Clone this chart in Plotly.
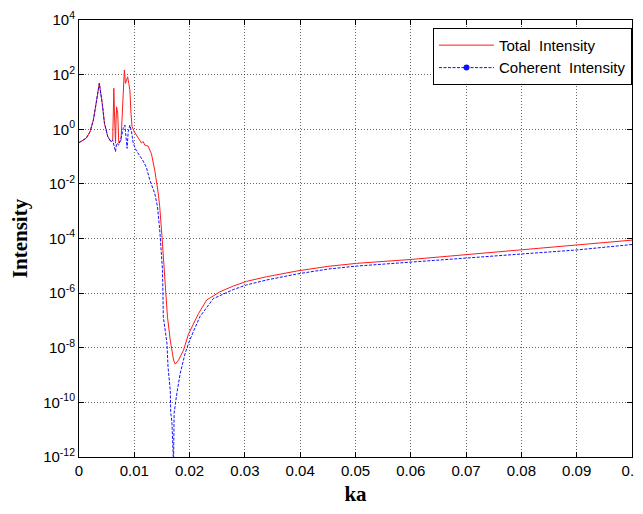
import plotly.graph_objects as go

# ---- data (intensity as log10 exponents) ----
total_ka = [0, 0.0006, 0.0013, 0.002, 0.0026, 0.0031, 0.00367, 0.0042, 0.0046, 0.0052,
            0.0058, 0.0061, 0.0062, 0.0063, 0.0064, 0.0066, 0.0067, 0.0068, 0.0070, 0.0072,
            0.0076, 0.0079, 0.0082, 0.0084, 0.0086, 0.0088, 0.0090, 0.0092, 0.0094, 0.0096,
            0.0100, 0.0104, 0.0108, 0.0113, 0.0116, 0.0119, 0.0125, 0.0131, 0.0137, 0.0143,
            0.0146, 0.0150, 0.0153, 0.0157, 0.0160, 0.0165, 0.0171, 0.0174, 0.0180, 0.0189,
            0.0198, 0.0207, 0.0216, 0.0231, 0.0255, 0.0279, 0.0303, 0.0339, 0.0394, 0.045,
            0.0502, 0.0599, 0.0695, 0.0797, 0.09, 0.1]
total_log10 = [-0.49, -0.42, -0.33, -0.09, 0.34, 0.95, 1.68, 0.95, 0.22, -0.27,
               -0.46, -0.40, 0.70, 1.50, 0.70, -0.51, 0.34, 0.82, 0.58, -0.51,
               -0.40, 1.07, 2.17, 1.68, 1.86, 1.92, 1.68, 1.44, 0.58, 0.09,
               -0.09, -0.20, -0.35, -0.50, -0.45, -0.58, -0.62, -0.90, -1.50, -2.30,
               -2.84, -3.90, -5.00, -6.00, -6.87, -7.72, -8.45, -8.60, -8.45, -8.09,
               -7.50, -7.10, -6.75, -6.25, -5.95, -5.74, -5.57, -5.40, -5.19, -5.02,
               -4.91, -4.77, -4.60, -4.44, -4.25, -4.06]

coh_ka = [0, 0.0006, 0.0013, 0.002, 0.0026, 0.0031, 0.00367, 0.0042, 0.0046, 0.0052,
          0.0058, 0.0061, 0.0064, 0.0066, 0.0068, 0.0072, 0.0076, 0.0080, 0.0083, 0.0085,
          0.0087, 0.0089, 0.0092, 0.0095, 0.0098, 0.0103, 0.0109, 0.0115, 0.0122, 0.0128,
          0.0137, 0.0142, 0.0146, 0.0151, 0.01525, 0.01555, 0.0159, 0.0161, 0.0165, 0.0166,
          0.0168, 0.0171, 0.0172, 0.0177, 0.0183, 0.0192, 0.0198, 0.0207, 0.0219, 0.0243,
          0.0279, 0.0303, 0.0339, 0.0394, 0.045, 0.0502, 0.0599, 0.0695, 0.0797, 0.09, 0.1]
coh_log10 = [-0.49, -0.42, -0.33, -0.09, 0.34, 0.95, 1.68, 0.95, 0.22, -0.27,
             -0.46, -0.40, -0.65, -0.82, -0.51, -0.58, -0.33, 0.03, 0.15, -0.27,
             -0.70, -0.09, 0.15, -0.09, -0.51, -0.76, -0.94, -1.13, -1.40, -1.86,
             -2.35, -2.84, -3.69, -5.16, -6.87, -7.36, -7.83, -8.70, -9.55, -10.40,
             -10.70, -12.30, -10.40, -9.66, -8.94, -8.20, -7.84, -7.40, -6.85, -6.20,
             -5.87, -5.70, -5.52, -5.30, -5.12, -5.01, -4.86, -4.73, -4.58, -4.42, -4.22]

total_int = [10 ** v for v in total_log10]
coh_int = [10 ** v for v in coh_log10]

x_ticks = [0, 0.01, 0.02, 0.03, 0.04, 0.05, 0.06, 0.07, 0.08, 0.09, 0.1]
x_tick_text = ["0", "0.01", "0.02", "0.03", "0.04", "0.05", "0.06", "0.07", "0.08", "0.09", "0.1"]
y_tick_exponents = [-12, -10, -8, -6, -4, -2, 0, 2, 4]
y_ticks = [10 ** e for e in y_tick_exponents]
y_tick_text = ["10<sup>%d</sup>" % e for e in y_tick_exponents]

fig = go.Figure()
fig.add_trace(go.Scatter(x=total_ka, y=total_int, mode="lines",
                         name="Total\u00a0 Intensity",
                         line=dict(color="#ff1a1a", width=1)))
fig.add_trace(go.Scatter(x=coh_ka, y=coh_int, mode="lines", showlegend=False,
                         line=dict(color="#1010ff", width=1, dash="3px,1.5px")))
fig.add_trace(go.Scatter(x=[None], y=[None], mode="lines+markers",
                         name="Coherent\u00a0 Intensity",
                         line=dict(color="#1010ff", width=1, dash="3px,1.5px"),
                         marker=dict(color="#1010ff", size=6)))

axis_common = dict(showline=True, linecolor="black", linewidth=1, mirror="ticks",
                   ticks="inside", ticklen=5, tickcolor="black",
                   showgrid=True, gridcolor="rgba(0,0,0,0.6)", gridwidth=1, griddash="1px,2px",
                   zeroline=False, automargin=False, ticklabeloverflow="allow",
                   tickfont=dict(family="Liberation Sans, Arial", size=15, color="black"))

fig.update_xaxes(range=[0, 0.1], tickvals=x_ticks, ticktext=x_tick_text,
                 title=dict(text="<b>ka</b>", font=dict(family="Liberation Serif, Times New Roman",
                                                         size=21, color="black"), standoff=8),
                 **axis_common)
fig.update_yaxes(type="log", range=[-12, 4], tickvals=y_ticks, ticktext=y_tick_text,
                 title=dict(text="<b>Intensity</b>", font=dict(family="Liberation Serif, Times New Roman",
                                                                size=21, color="black"), standoff=11),
                 **axis_common)

# the page body has an 8 px default margin, so the figure is sized to fit in the window
fig.update_layout(width=635, height=498,
                  margin=dict(l=71, r=11, t=12, b=49),
                  paper_bgcolor="white", plot_bgcolor="white",
                  showlegend=True,
                  legend=dict(x=1, y=0.982, xanchor="right", yanchor="top",
                              bordercolor="black", borderwidth=1, bgcolor="white",
                              itemwidth=55,
                              font=dict(family="Liberation Sans, Arial", size=15, color="black"),
                              tracegroupgap=0))

fig.write_html("out.html")
